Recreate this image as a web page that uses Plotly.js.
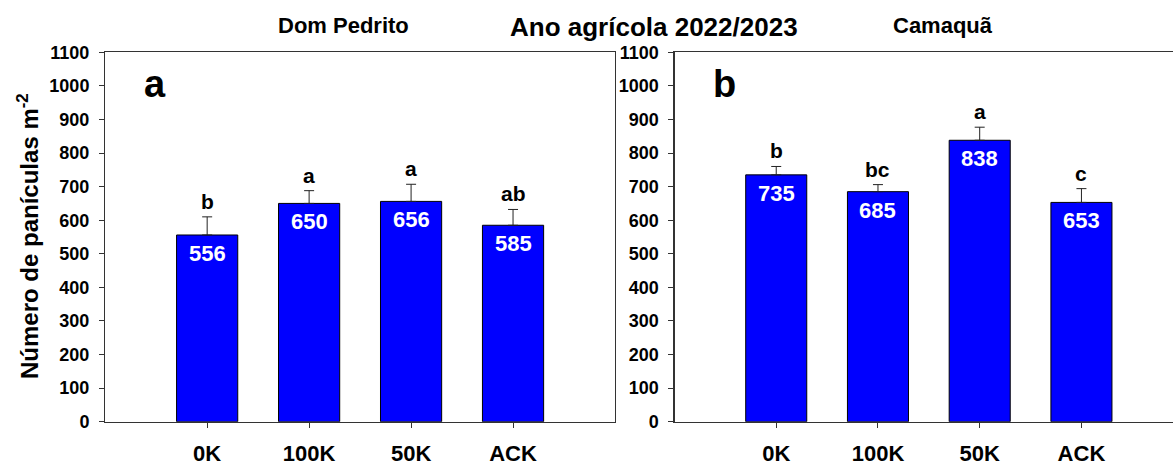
<!DOCTYPE html>
<html>
<head>
<meta charset="utf-8">
<script src="https://cdn.plot.ly/plotly-3.0.1.min.js"></script>
<style>html,body{margin:0;padding:0;background:#fff;}#chart{width:1173px;height:461px;}</style>
</head>
<body>
<div id="chart"></div>
<script>
// ---- data ----
const categories = ["0K", "100K", "50K", "ACK"];
const domPedritoValues = [556, 650, 656, 585];
const domPedritoErrors = [54, 38, 51, 47];
const domPedritoLetters = ["b", "a", "a", "ab"];
const camaquaValues = [735, 685, 838, 653];
const camaquaErrors = [25, 21, 39, 41];
const camaquaLetters = ["b", "bc", "a", "c"];
const yTicks = [0, 100, 200, 300, 400, 500, 600, 700, 800, 900, 1000, 1100];

const FONT = "Liberation Sans, Arial, sans-serif";
const W = 1173, H = 461;
const px = v => v / W;
const py = v => 1 - v / H;

function barTrace(vals, errs, xa, ya) {
  return {
    type: "bar",
    x: categories,
    y: vals,
    xaxis: xa, yaxis: ya,
    width: 0.6,
    marker: {color: "#0000FF", line: {color: "#000000", width: 1}},
    error_y: {type: "data", symmetric: false, array: errs, arrayminus: errs.map(() => 0),
              color: "#222222", thickness: 1, width: 5},
    hoverinfo: "skip",
    showlegend: false
  };
}

const traces = [
  barTrace(domPedritoValues, domPedritoErrors, "x", "y"),
  barTrace(camaquaValues, camaquaErrors, "x2", "y2")
];

const annotations = [];
function addBarTexts(vals, errs, letters, xref, yref) {
  categories.forEach((c, i) => {
    annotations.push({xref: xref, yref: yref, x: c, y: vals[i], text: String(vals[i]),
      showarrow: false, yanchor: "top", yshift: -4,
      font: {family: FONT, size: 22, color: "#ffffff", weight: "bold"}});
    annotations.push({xref: xref, yref: yref, x: c, y: vals[i] + errs[i], text: letters[i],
      showarrow: false, yanchor: "bottom", yshift: 2,
      font: {family: FONT, size: 21, color: "#000000", weight: "bold"}});
  });
}
addBarTexts(domPedritoValues, domPedritoErrors, domPedritoLetters, "x", "y");
addBarTexts(camaquaValues, camaquaErrors, camaquaLetters, "x2", "y2");

// titles & labels
annotations.push({xref: "paper", yref: "paper", x: px(343.5), y: py(25), text: "Dom Pedrito",
  showarrow: false, xanchor: "center", yanchor: "middle",
  font: {family: FONT, size: 22, color: "#000", weight: "bold"}});
annotations.push({xref: "paper", yref: "paper", x: px(654), y: py(27), text: "Ano agrícola 2022/2023",
  showarrow: false, xanchor: "center", yanchor: "middle",
  font: {family: FONT, size: 26, color: "#000", weight: "bold"}});
annotations.push({xref: "paper", yref: "paper", x: px(942.5), y: py(25), text: "Camaquã",
  showarrow: false, xanchor: "center", yanchor: "middle",
  font: {family: FONT, size: 22, color: "#000", weight: "bold"}});
annotations.push({xref: "paper", yref: "paper", x: px(155), y: py(84), text: "a",
  showarrow: false, xanchor: "center", yanchor: "middle",
  font: {family: FONT, size: 38, color: "#000", weight: "bold"}});
annotations.push({xref: "paper", yref: "paper", x: px(724.5), y: py(84), text: "b",
  showarrow: false, xanchor: "center", yanchor: "middle",
  font: {family: FONT, size: 38, color: "#000", weight: "bold"}});
annotations.push({xref: "paper", yref: "paper", x: px(28), y: py(236), text: "Número de panículas m<sup>-2</sup>",
  showarrow: false, xanchor: "center", yanchor: "middle", textangle: -90,
  font: {family: FONT, size: 24, color: "#000", weight: "bold"}});

const axisCommon = {
  showgrid: false, zeroline: false, showline: true, linecolor: "#333333", linewidth: 1.2,
  ticks: "outside", tickcolor: "#333333", tickwidth: 1, automargin: false, fixedrange: true
};

const layout = {
  width: W, height: H,
  margin: {l: 0, r: 0, t: 0, b: 0},
  paper_bgcolor: "#ffffff", plot_bgcolor: "#ffffff",
  showlegend: false,
  xaxis: Object.assign({}, axisCommon, {
    domain: [px(105.2), px(615)], type: "category", categoryorder: "array", categoryarray: categories,
    range: [-1, 4], mirror: true, ticklen: 5, ticklabelstandoff: 7,
    tickfont: {family: FONT, size: 22, color: "#000", weight: "bold"}, anchor: "y"}),
  yaxis: Object.assign({}, axisCommon, {
    domain: [py(421.7), py(52.3)], range: [0, 1100], tickvals: yTicks, mirror: true, ticklen: 5,
    ticklabelstandoff: 6, tickfont: {family: FONT, size: 18, color: "#000", weight: "bold"}, anchor: "x"}),
  xaxis2: Object.assign({}, axisCommon, {
    domain: [px(674.5), 1], type: "category", categoryorder: "array", categoryarray: categories,
    range: [-1, 3.9], mirror: true, ticklen: 5, ticklabelstandoff: 7,
    tickfont: {family: FONT, size: 22, color: "#000", weight: "bold"}, anchor: "y2"}),
  yaxis2: Object.assign({}, axisCommon, {
    domain: [py(421.7), py(52.3)], range: [0, 1100], tickvals: yTicks, mirror: false, ticklen: 5,
    ticklabelstandoff: 6, tickfont: {family: FONT, size: 18, color: "#000", weight: "bold"}, anchor: "x2"}),
  annotations: annotations
};

Plotly.newPlot("chart", traces, layout, {displayModeBar: false, staticPlot: true});
</script>
</body>
</html>
